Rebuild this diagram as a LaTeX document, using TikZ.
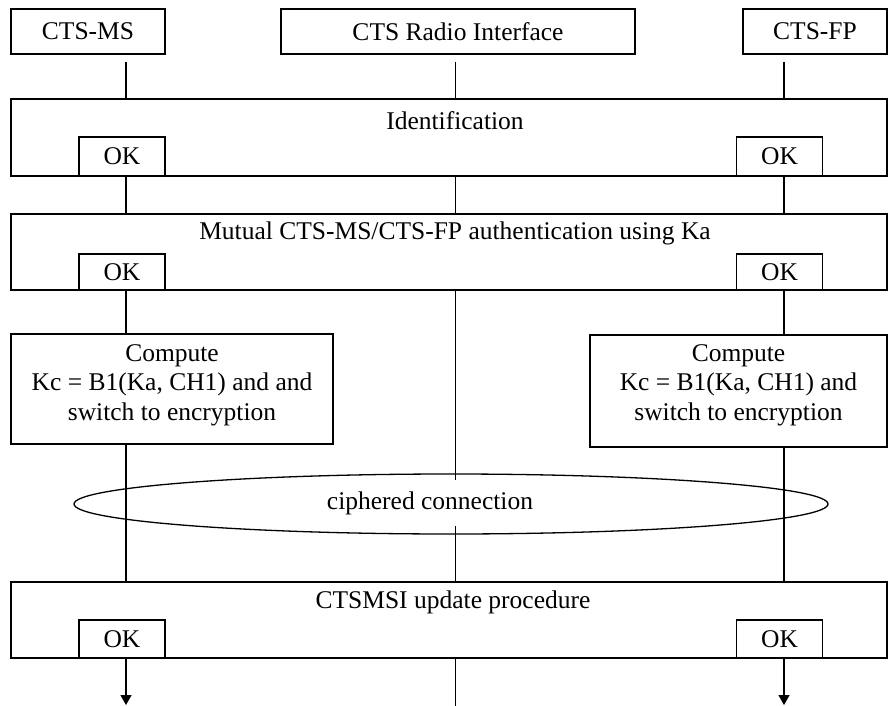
\documentclass[tikz,border=0pt]{standalone}
\usepackage{fontspec}
\setmainfont{Liberation Serif}
\usetikzlibrary{shapes.geometric,arrows.meta}
\begin{document}
\begin{tikzpicture}[x=1pt,y=-1pt,
  every node/.style={font=\fontsize{25.5}{29.5}\selectfont},
  boxframe/.style={draw, line width=1.3pt, inner sep=0pt},
  okbox/.style={boxframe, fill=white, minimum width=86pt},
  life/.style={line width=1.3pt},
  arr/.style={life, -{Triangle[length=10pt,width=11pt]}}]
\fill[white] (0,0) rectangle (889,706);
\useasboundingbox (0,0) rectangle (889,706);
% lifeline x positions
\coordinate (lms) at (126,0);
\coordinate (lri) at (455.5,0);
\coordinate (lfp) at (784,0);
% entity boxes
\node[boxframe, minimum width=154pt, minimum height=45pt] (ms) at (88,31.5) {CTS-MS};
\node[boxframe, minimum width=354pt, minimum height=45pt] (ri) at (458,31.5) {CTS Radio Interface};
\node[boxframe, minimum width=144pt, minimum height=45pt] (fp) at (815,31.5) {CTS-FP};
% phase boxes
\node[boxframe, minimum width=876pt, minimum height=77pt] (ident) at (449,137.5) {};
\node[boxframe, minimum width=876pt, minimum height=76pt] (mut) at (449,252) {};
\node[boxframe, minimum width=876pt, minimum height=76pt] (upd) at (449,620) {};
\node[boxframe, minimum width=322pt, minimum height=110pt] (cms) at (172,389) {};
\node[boxframe, minimum width=297pt, minimum height=112pt] (cfp) at (738.5,391) {};
\node[align=center] (cmst) at (172,385)
  {Compute\\Kc = B1(Ka, CH1) and and\\switch to encryption};
\node[align=center] (cfpt) at (738.5,385)
  {Compute\\Kc = B1(Ka, CH1) and\\switch to encryption};
% lifelines
\draw[life, shorten <=7pt] (ms.south -| lms) -- (ident.north -| lms);
\draw[life, shorten <=7pt] (ri.south -| lri) -- (ident.north -| lri);
\draw[life, shorten <=7pt] (fp.south -| lfp) -- (ident.north -| lfp);
\draw[life] (ident.south -| lms) -- (mut.north -| lms);
\draw[life] (ident.south -| lri) -- (mut.north -| lri);
\draw[life] (ident.south -| lfp) -- (mut.north -| lfp);
\draw[life] (mut.south -| lms) -- (cms.north -| lms);
\draw[life] (mut.south -| lri) -- (upd.north -| lri);
\draw[life] (mut.south -| lfp) -- (cfp.north -| lfp);
\draw[life] (cms.south -| lms) -- (upd.north -| lms);
\draw[life] (cfp.south -| lfp) -- (upd.north -| lfp);
\coordinate (endms) at (126,705);
\coordinate (endri) at (455.5,706);
\coordinate (endfp) at (784,705);
\draw[arr] (upd.south -| lms) -- (endms);
\draw[life] (upd.south -| lri) -- (endri);
\draw[arr] (upd.south -| lfp) -- (endfp);
% texts of phases
\node (identt) at (455,121) {Identification};
\node (mutt) at (455,233) {Mutual CTS-MS/CTS-FP authentication using Ka};
\node (updt) at (453,602) {CTSMSI update procedure};
% OK boxes
\node[okbox, minimum height=39pt] (ok1a) at (122,156.5) {OK};
\node[okbox, minimum height=39pt] (ok1b) at (779.5,156.5) {OK};
\node[okbox, minimum height=36pt] (ok2a) at (122,272) {OK};
\node[okbox, minimum height=36pt] (ok2b) at (779.5,272) {OK};
\node[okbox, minimum height=38pt] (ok3a) at (122,639) {OK};
\node[okbox, minimum height=38pt] (ok3b) at (779.5,639) {OK};
% ciphered connection
\node[fill=white, minimum height=46pt, inner xsep=3pt, inner ysep=0pt] (ciphtxt) at (430,503) {ciphered connection};
\node[draw, ellipse, line width=1.3pt, minimum width=754pt, minimum height=60pt, inner sep=0pt] (ciph) at (451,504) {};
\end{tikzpicture}
\end{document}
